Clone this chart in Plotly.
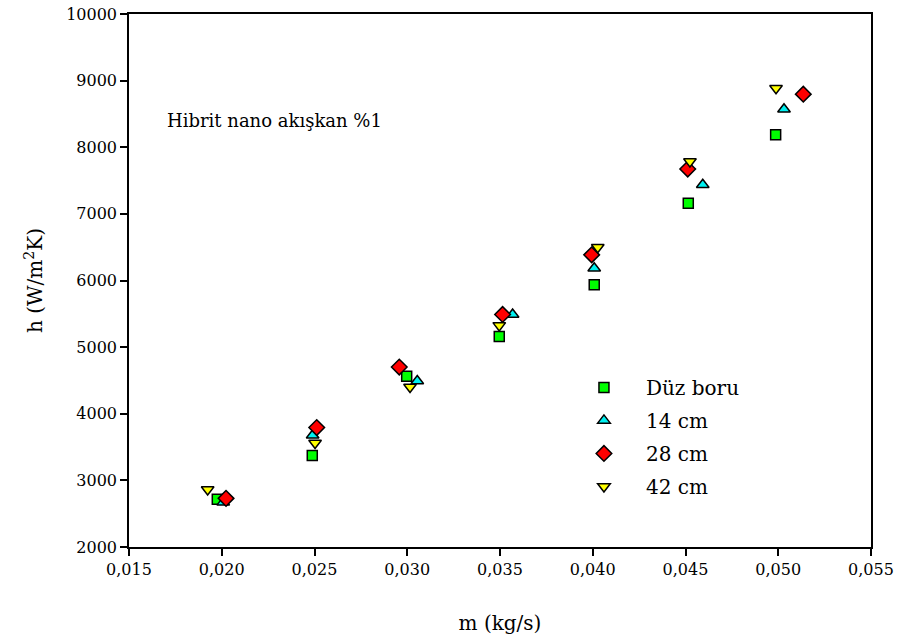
import plotly.graph_objects as go

# Mass flow rate (kg/s) and heat transfer coefficient (W/m²K) for each configuration
duz_m = [0.01976, 0.02488, 0.02997, 0.03496, 0.04008, 0.04515, 0.04986]
duz_h = [2715, 3374, 4562, 5161, 5935, 7158, 8187]

cm14_m = [0.02008, 0.02490, 0.03054, 0.03568, 0.04008, 0.04593, 0.05031]
cm14_h = [2670, 3678, 4491, 5490, 6184, 7438, 8571]

cm28_m = [0.02023, 0.02512, 0.02957, 0.03514, 0.03994, 0.04512, 0.05135]
cm28_h = [2730, 3793, 4701, 5490, 6385, 7673, 8797]

cm42_m = [0.01924, 0.02503, 0.03015, 0.03496, 0.04027, 0.04524, 0.04988]
cm42_h = [2864, 3562, 4401, 5326, 6499, 7787, 8886]

x_ticks = [0.015, 0.020, 0.025, 0.030, 0.035, 0.040, 0.045, 0.050, 0.055]
y_ticks = [2000, 3000, 4000, 5000, 6000, 7000, 8000, 9000, 10000]

series = [
    ("Düz boru", duz_m, duz_h, "square", "#00FF00", 10),
    ("14 cm", cm14_m, cm14_h, "triangle-up", "#00F0F0", 11),
    ("28 cm", cm28_m, cm28_h, "diamond", "#FF0000", 12),
    ("42 cm", cm42_m, cm42_h, "triangle-down", "#FFFF00", 11),
]

FONT = "DejaVu Serif"

fig = go.Figure()
for i, (name, xs, ys, sym, col, sz) in enumerate(series):
    fig.add_trace(go.Scatter(
        x=xs, y=ys, mode="markers", name=name, legendgroup=f"g{i}",
        marker=dict(symbol=sym, color=col, size=sz,
                    line=dict(color="black", width=1.5)),
    ))

axis_common = dict(
    showline=True, linecolor="black", linewidth=1.5, mirror=True,
    ticks="outside", ticklen=7, tickwidth=1.5, tickcolor="black",
    showgrid=False, zeroline=False, automargin=False,
    ticklabeloverflow="allow",
    tickfont=dict(family=FONT, size=16, color="black"),
)

fig.update_layout(
    width=897, height=642,
    margin=dict(l=129, r=26, t=14, b=95),
    paper_bgcolor="white", plot_bgcolor="white",
    separators=",.",
    font=dict(family=FONT, size=16, color="black"),
    xaxis=dict(range=[0.015, 0.055], tickvals=x_ticks, tickformat=".3f",
               title=dict(text="m (kg/s)", font=dict(family=FONT, size=20), standoff=38),
               **axis_common),
    yaxis=dict(range=[2000, 10000], tickvals=y_ticks, tickformat="d",
               title=dict(text="h (W/m<sup>2</sup>K)", font=dict(family=FONT, size=20), standoff=18),
               **axis_common),
    legend=dict(x=0.5835, y=0.336, xanchor="left", yanchor="top",
                font=dict(family=FONT, size=20, color="black"),
                bgcolor="rgba(0,0,0,0)", tracegroupgap=4, itemwidth=74),
    annotations=[dict(
        text="Hibrit nano akışkan %1", xref="paper", yref="paper",
        x=0.049, y=0.801, xanchor="left", yanchor="middle", showarrow=False,
        font=dict(family=FONT, size=18, color="black"),
    )],
)

fig.write_html("out.html")
